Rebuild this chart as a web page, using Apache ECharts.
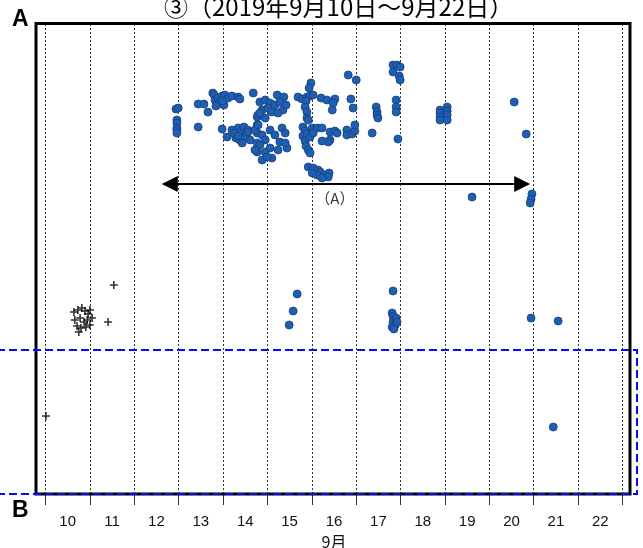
<!DOCTYPE html>
<html><head><meta charset="utf-8">
<script src="https://cdn.jsdelivr.net/npm/echarts@6/dist/echarts.min.js"></script>
<style>html,body{margin:0;padding:0;background:#fff}#c{width:643px;height:548px}</style>
</head><body><div id="c"></div>
<script>
// day labels (September 2019)
var days = ['10','11','12','13','14','15','16','17','18','19','20','21','22'];
var titleText = '③（2019年9月10日～9月22日）';
var monthLabel = '9月';
// x: day of September (fractional), y: position between B (0) and A (47)
var blueEvents = [
[12.94,38.5],[12.99,38.6],[12.96,37.4],[12.96,37.1],[12.96,36.6],[12.96,36.4],[12.96,36.1],
[13.44,39.0],[13.57,39.0],[13.66,38.2],[13.44,36.7],[13.77,40.1],
[13.80,39.9],[13.82,39.4],[13.89,39.6],[13.98,39.8],[14.04,39.9],[14.11,39.6],[14.20,39.8],[14.34,39.7],[14.38,39.5],[13.91,39.1],[14.02,38.9],[13.98,39.3],[13.84,38.8],
[14.68,40.1],[13.98,36.5],[14.09,35.7],
[14.20,36.4],[14.27,36.0],[14.34,36.6],[14.41,36.3],[14.47,36.7],[14.54,36.1],[14.29,35.6],[14.38,35.4],[14.50,35.7],[14.25,36.1],[14.43,35.1],[14.34,35.8],[14.56,36.4],
[14.77,37.7],[14.77,36.9],[14.77,36.1],[14.77,35.1],[14.77,34.2],
[15.22,39.9],[15.37,39.7],
[14.83,39.2],[14.95,39.4],[15.06,39.1],[15.17,38.9],[15.28,39.2],[15.35,38.4],[14.88,38.4],[15.01,38.6],[15.10,38.2],[15.24,38.1],[15.42,38.9],[14.79,37.9],[14.95,37.6],[14.83,38.1],
[14.56,36.2],[14.61,35.4],[14.72,36.4],[14.79,36.9],[14.88,35.9],[14.95,35.4],[14.83,34.9],[14.72,34.4],[14.95,34.2],[15.06,34.6],[15.06,36.4],[15.17,35.9],[15.28,35.2],[15.33,36.6],[15.40,36.1],[15.44,34.6],[15.24,34.4],[15.10,33.6],[15.40,35.1],[14.88,33.4],[14.99,33.7],
[15.69,39.7],[15.78,39.5],[15.89,39.7],[15.96,39.8],[16.03,39.9],[15.87,39.3],[15.98,41.1],[15.94,40.6],
[16.21,39.6],[16.34,39.4],[16.52,39.5],[16.48,39.1],[16.46,38.4],
[15.85,38.7],[15.89,38.2],[15.89,37.6],[15.92,37.4],
[16.82,41.9],[17.00,41.4],[16.88,39.5],[16.93,38.6],
[15.80,36.7],[15.85,36.3],[15.80,35.8],[15.85,35.3],[15.87,34.8],[15.92,34.4],[15.96,34.1],[15.89,36.0],[15.96,35.7],[16.01,36.6],
[16.12,36.6],[16.23,36.6],[16.03,36.1],
[16.41,36.2],[16.52,36.3],[16.57,36.1],[16.41,35.4],[16.37,35.2],[16.23,35.3],
[16.79,36.4],[16.79,35.9],[16.91,36.0],[16.97,36.3],[16.97,36.9],
[15.92,32.7],[16.03,32.6],[16.14,32.4],[16.19,32.2],[16.28,31.9],[16.39,32.1],[16.37,31.7],[16.12,31.9],[16.01,32.1],[16.23,31.6],
[17.36,36.1],[17.45,38.7],[17.47,38.2],[17.47,37.9],[17.49,37.6],
[17.83,42.9],[17.92,42.9],[17.99,42.7],[17.83,42.2],[17.97,41.8],[17.99,41.4],
[17.90,39.4],[17.90,38.7],[17.90,38.2],[17.94,35.5],
[18.89,38.4],[18.89,38.1],[18.89,37.7],[18.89,37.4],[19.05,38.7],[19.05,38.3],[19.05,37.9],[19.05,37.4],
[20.56,39.2],[20.83,36.0],[19.61,29.7],[20.96,30.0],[20.94,29.5],[20.92,29.1],
[15.67,20.0],[15.58,18.3],[15.49,16.9],
[17.83,20.3],[17.81,18.1],[17.83,17.8],[17.85,17.5],[17.83,17.2],[17.88,16.9],[17.81,16.7],[17.90,17.6],[17.92,17.2],[17.85,16.5],
[20.94,17.6],[21.55,17.3],[21.44,6.7]
];
var crossEvents = [
[11.54,20.9],[11.41,17.2],[10.01,7.8],
[10.64,18.2],[10.73,18.4],[10.82,18.6],[10.89,18.3],[10.96,18.0],[11.00,18.4],[11.05,17.6],
[10.66,17.4],[10.78,17.6],[10.87,17.2],[10.94,17.4],[11.00,16.9],[10.71,16.8],[10.80,16.6],[10.91,16.7],[10.75,16.2]
];
// arrow (A) span and label
var arrowStart = [12.80, 31.0];
var arrowEnd = [20.74, 31.0];
var arrowLabel = [[16.52, 29.6]];
var arrowText = '（A）';

var chart = echarts.init(document.getElementById('c'), null, {renderer:'canvas'});
var font = '"Liberation Sans", Arial, sans-serif';
chart.setOption({
  backgroundColor: '#fff',
  animation: false,
  title: {
    text: titleText, left: 159, top: -10,
    textStyle: {fontFamily: '"Noto Sans CJK JP", sans-serif', fontSize: 24, fontWeight: 'normal', color: '#000'}
  },
  grid: {left: 45.5, right: 20.5, top: 24, bottom: 54, containLabel: false, outerBoundsMode: 'none'},
  xAxis: [{
    type: 'value', min: 10, max: 23, interval: 1,
    axisLine: {show: false}, axisTick: {show: false}, axisLabel: {show: false},
    splitLine: {show: true, lineStyle: {color: '#333', type: [2, 2], width: 1}}
  }, {
    type: 'category', data: days, position: 'bottom', boundaryGap: true,
    axisLine: {show: false},
    axisTick: {show: true, length: 11, alignWithLabel: false, lineStyle: {color: '#333', width: 1}},
    axisLabel: {margin: 20, fontSize: 15, color: '#111', fontFamily: font},
    name: monthLabel, nameLocation: 'middle', nameGap: 28,
    nameTextStyle: {fontSize: 16, color: '#111', fontFamily: '"Noto Sans CJK JP", sans-serif'},
    splitLine: {show: false}
  }],
  yAxis: {type: 'value', min: 0, max: 47, show: false, splitLine: {show: false}},
  series: [{
    type: 'scatter', xAxisIndex: 0, data: blueEvents, symbol: 'circle', symbolSize: 8,
    itemStyle: {color: '#1f5fb2', borderColor: '#173f7c', borderWidth: 0.8, opacity: 1}
  }, {
    type: 'scatter', xAxisIndex: 0, data: crossEvents,
    symbol: 'path://M0,4H10V6H0Z M4,0H6V10H4Z', symbolSize: 8,
    itemStyle: {color: '#000'}
  }, {
    type: 'scatter', xAxisIndex: 0, data: arrowLabel, symbolSize: 0,
    label: {show: true, position: 'inside', formatter: arrowText, fontSize: 15, color: '#000',
            fontFamily: '"Noto Sans CJK JP", sans-serif'},
    markLine: {
      silent: true, symbol: ['triangle', 'triangle'], symbolSize: 16,
      lineStyle: {color: '#000', width: 2, type: 'solid'},
      label: {show: false},
      data: [[{coord: arrowStart}, {coord: arrowEnd}]]
    }
  }],
  graphic: [
    {type: 'rect', shape: {x: 36, y: 23.5, width: 594, height: 470.5}, style: {fill: 'none', stroke: '#000', lineWidth: 3}, z: 50},
    {type: 'rect', shape: {x: -3, y: 350, width: 640, height: 144}, style: {fill: 'none', stroke: '#0a0af0', lineWidth: 2, lineDash: [8, 4]}, z: 60},
    {type: 'text', left: 12, top: 8, style: {text: 'A', font: 'bold 23px "Liberation Sans", Arial, sans-serif', fill: '#000'}, z: 60},
    {type: 'text', left: 12, top: 499, style: {text: 'B', font: 'bold 23px "Liberation Sans", Arial, sans-serif', fill: '#000'}, z: 60}
  ]
});
</script></body></html>
